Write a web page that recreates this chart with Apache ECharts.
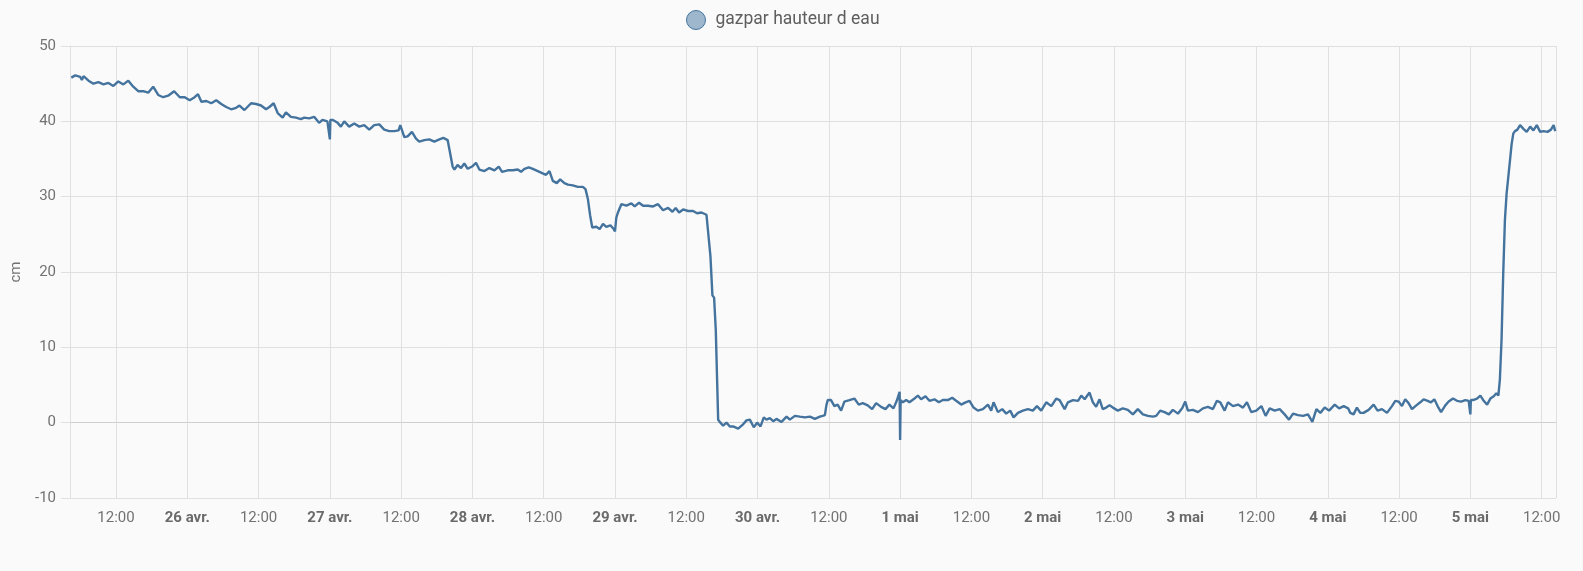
<!DOCTYPE html>
<html>
<head>
<meta charset="utf-8">
<script src="https://cdn.jsdelivr.net/npm/echarts@6/dist/echarts.min.js"></script>
<style>
html,body{margin:0;padding:0;background:#fafafa;}
#chart{width:1583px;height:571px;}
</style>
</head>
<body>
<div id="chart"></div>
<script>
const seriesName = 'gazpar hauteur d eau';
const yAxisName = 'cm';
const year = 2024;
const monthNames = ['janv.', 'févr.', 'mars', 'avr.', 'mai', 'juin', 'juil.', 'août', 'sept.', 'oct.', 'nov.', 'déc.'];
const axisStart = '04-25 04:15';
const axisEnd = '05-05 14:25';
const yTicks = [-10, 0, 10, 20, 30, 40, 50];

const apr25 = [
  ['04-25 04:28', 45.8], ['04-25 05:08', 46.1], ['04-25 05:58', 45.9], ['04-25 06:15', 45.5], ['04-25 06:32', 46.0],
  ['04-25 07:22', 45.4], ['04-25 08:12', 45.0], ['04-25 09:02', 45.2], ['04-25 09:53', 44.9], ['04-25 10:43', 45.1],
  ['04-25 11:33', 44.7], ['04-25 12:23', 45.3], ['04-25 13:14', 44.9], ['04-25 14:04', 45.4], ['04-25 14:54', 44.6],
  ['04-25 15:44', 44.0], ['04-25 16:35', 44.0], ['04-25 17:25', 43.8], ['04-25 18:15', 44.6], ['04-25 19:06', 43.5],
  ['04-25 19:56', 43.2], ['04-25 20:46', 43.4], ['04-25 21:47', 44.0], ['04-25 22:44', 43.2], ['04-25 23:34', 43.2]
];
const apr26 = [
  ['04-26 00:24', 42.8], ['04-26 01:14', 43.2], ['04-26 01:48', 43.6], ['04-26 02:22', 42.6], ['04-26 03:12', 42.7],
  ['04-26 04:02', 42.4], ['04-26 04:52', 42.8], ['04-26 05:43', 42.3], ['04-26 06:33', 41.9], ['04-26 07:23', 41.6],
  ['04-26 08:13', 41.8], ['04-26 08:47', 42.1], ['04-26 09:37', 41.5], ['04-26 10:44', 42.4], ['04-26 11:35', 42.3],
  ['04-26 12:25', 42.1], ['04-26 13:15', 41.6], ['04-26 13:49', 41.9], ['04-26 14:32', 42.4], ['04-26 15:13', 41.1],
  ['04-26 16:03', 40.5], ['04-26 16:36', 41.2], ['04-26 17:26', 40.6], ['04-26 18:17', 40.5], ['04-26 19:07', 40.3],
  ['04-26 19:41', 40.5], ['04-26 20:31', 40.4], ['04-26 21:21', 40.6], ['04-26 22:11', 39.8], ['04-26 22:45', 40.2],
  ['04-26 23:35', 40.0], ['04-26 23:55', 40.1]
];
const apr27 = [
  ['04-27 00:00', 37.6], ['04-27 00:05', 40.2], ['04-27 00:27', 40.2], ['04-27 01:18', 39.8], ['04-27 01:51', 39.3],
  ['04-27 02:25', 40.0], ['04-27 03:15', 39.3], ['04-27 04:06', 39.7], ['04-27 04:57', 39.3], ['04-27 05:47', 39.5],
  ['04-27 06:38', 38.9], ['04-27 07:28', 39.5], ['04-27 08:19', 39.6], ['04-27 09:09', 38.9], ['04-27 10:00', 38.7],
  ['04-27 10:51', 38.7], ['04-27 11:34', 38.8], ['04-27 11:51', 39.5], ['04-27 12:32', 37.9], ['04-27 13:05', 38.0],
  ['04-27 13:49', 38.6], ['04-27 14:30', 37.7], ['04-27 15:03', 37.3], ['04-27 15:54', 37.5], ['04-27 16:44', 37.6],
  ['04-27 17:35', 37.3], ['04-27 18:26', 37.6], ['04-27 19:06', 37.8], ['04-27 19:50', 37.5], ['04-27 20:06', 37.5],
  ['04-27 20:40', 34.0], ['04-27 20:58', 33.6], ['04-27 21:30', 34.2], ['04-27 22:05', 33.8], ['04-27 22:38', 34.4],
  ['04-27 23:12', 33.7], ['04-27 23:56', 34.0]
];
const apr28 = [
  ['04-28 00:36', 34.5], ['04-28 01:10', 33.6], ['04-28 02:01', 33.4], ['04-28 02:51', 33.8], ['04-28 03:42', 33.5],
  ['04-28 04:26', 34.0], ['04-28 04:59', 33.3], ['04-28 05:57', 33.5], ['04-28 06:47', 33.5], ['04-28 07:38', 33.6],
  ['04-28 08:11', 33.3], ['04-28 08:45', 33.7], ['04-28 09:29', 33.9], ['04-28 10:10', 33.7], ['04-28 11:00', 33.4],
  ['04-28 11:50', 33.1], ['04-28 12:24', 32.9], ['04-28 12:58', 33.4], ['04-28 13:32', 32.1], ['04-28 14:12', 31.8],
  ['04-28 14:46', 32.3], ['04-28 15:29', 31.8], ['04-28 16:04', 31.6], ['04-28 16:54', 31.5], ['04-28 17:44', 31.3],
  ['04-28 18:35', 31.3], ['04-28 19:02', 31.0], ['04-28 19:26', 29.7], ['04-28 19:49', 27.5], ['04-28 20:10', 25.9],
  ['04-28 20:51', 26.0], ['04-28 21:25', 25.7], ['04-28 21:59', 26.4], ['04-28 22:32', 26.0], ['04-28 23:13', 26.2],
  ['04-28 23:47', 25.7]
];
const apr29 = [
  ['04-29 00:00', 25.4], ['04-29 00:13', 27.2], ['04-29 00:30', 27.9], ['04-29 01:04', 29.0], ['04-29 01:55', 28.8],
  ['04-29 02:45', 29.1], ['04-29 03:19', 28.7], ['04-29 04:03', 29.2], ['04-29 04:43', 28.8], ['04-29 05:34', 28.8],
  ['04-29 06:24', 28.7], ['04-29 07:15', 29.0], ['04-29 08:05', 28.2], ['04-29 08:56', 28.5], ['04-29 09:40', 28.0],
  ['04-29 10:13', 28.5], ['04-29 10:47', 27.9], ['04-29 11:28', 28.3], ['04-29 12:18', 28.1], ['04-29 13:09', 28.1],
  ['04-29 13:49', 27.8], ['04-29 14:33', 27.9], ['04-29 15:24', 27.6], ['04-29 15:44', 27.4], ['04-29 16:04', 22.1],
  ['04-29 16:24', 16.9], ['04-29 16:41', 16.6], ['04-29 16:58', 12.3], ['04-29 17:22', 0.4], ['04-29 17:45', 0.0],
  ['04-29 18:12', -0.4], ['04-29 18:46', 0.0], ['04-29 19:20', -0.5], ['04-29 19:53', -0.5], ['04-29 20:44', -0.8],
  ['04-29 21:28', -0.3], ['04-29 22:08', 0.3], ['04-29 22:42', 0.4], ['04-29 23:22', -0.6], ['04-29 23:56', 0.0]
];
const apr30 = [
  ['04-30 00:30', -0.5], ['04-30 01:03', 0.7], ['04-30 01:30', 0.4], ['04-30 02:04', 0.6], ['04-30 02:38', 0.2],
  ['04-30 03:11', 0.5], ['04-30 04:02', 0.1], ['04-30 04:53', 0.8], ['04-30 05:26', 0.4], ['04-30 06:17', 0.9],
  ['04-30 07:07', 0.8], ['04-30 07:58', 0.7], ['04-30 08:49', 0.8], ['04-30 09:39', 0.5], ['04-30 10:29', 0.8],
  ['04-30 10:58', 0.9], ['04-30 11:20', 1.0], ['04-30 11:35', 2.3], ['04-30 11:49', 3.0], ['04-30 12:22', 3.0],
  ['04-30 12:56', 2.2], ['04-30 13:29', 2.4], ['04-30 14:04', 1.6], ['04-30 14:37', 2.8], ['04-30 15:28', 3.0],
  ['04-30 16:18', 3.2], ['04-30 17:02', 2.4], ['04-30 17:43', 2.6], ['04-30 18:33', 2.3], ['04-30 19:17', 1.8],
  ['04-30 19:58', 2.6], ['04-30 20:48', 2.1], ['04-30 21:32', 1.8], ['04-30 22:12', 2.4], ['04-30 22:53', 1.9],
  ['04-30 23:26', 2.9], ['04-30 23:55', 4.1]
];
const may1 = [
  ['05-01 00:00', -2.3], ['05-01 00:05', 3.0], ['05-01 00:27', 2.7], ['05-01 01:01', 3.0], ['05-01 01:34', 2.7],
  ['05-01 02:15', 3.1], ['05-01 02:59', 3.6], ['05-01 03:32', 3.1], ['05-01 04:16', 3.5], ['05-01 04:56', 2.9],
  ['05-01 05:47', 3.1], ['05-01 06:31', 2.7], ['05-01 07:11', 3.0], ['05-01 08:02', 3.0], ['05-01 08:46', 3.3],
  ['05-01 09:26', 2.9], ['05-01 10:17', 2.4], ['05-01 11:01', 2.7], ['05-01 11:41', 2.9], ['05-01 12:22', 2.0],
  ['05-01 13:05', 1.6], ['05-01 13:56', 1.8], ['05-01 14:47', 2.4], ['05-01 15:20', 1.6], ['05-01 15:44', 2.7],
  ['05-01 16:28', 1.4], ['05-01 17:11', 1.8], ['05-01 17:52', 1.2], ['05-01 18:32', 1.6], ['05-01 19:06', 0.7],
  ['05-01 19:50', 1.3], ['05-01 20:40', 1.6], ['05-01 21:31', 1.8], ['05-01 22:21', 1.6], ['05-01 23:02', 2.2],
  ['05-01 23:45', 1.6]
];
const may2 = [
  ['05-02 00:36', 2.7], ['05-02 01:27', 2.2], ['05-02 02:17', 3.2], ['05-02 02:51', 3.0], ['05-02 03:42', 1.8],
  ['05-02 04:15', 2.7], ['05-02 05:06', 3.0], ['05-02 05:57', 2.9], ['05-02 06:30', 3.6], ['05-02 07:04', 3.1],
  ['05-02 07:53', 4.0], ['05-02 08:27', 2.7], ['05-02 09:00', 2.1], ['05-02 09:34', 3.1], ['05-02 10:07', 1.8],
  ['05-02 10:41', 2.0], ['05-02 11:15', 2.3], ['05-02 11:49', 2.0], ['05-02 12:39', 1.6], ['05-02 13:29', 1.9],
  ['05-02 14:20', 1.7], ['05-02 15:11', 1.1], ['05-02 16:01', 1.8], ['05-02 16:52', 1.1], ['05-02 17:43', 0.9],
  ['05-02 18:33', 0.8], ['05-02 19:07', 0.9], ['05-02 19:47', 1.6], ['05-02 20:31', 1.4], ['05-02 21:15', 1.1],
  ['05-02 21:55', 1.7], ['05-02 22:46', 1.2], ['05-02 23:29', 1.9]
];
const may3 = [
  ['05-03 00:00', 2.8], ['05-03 00:27', 1.6], ['05-03 01:17', 1.7], ['05-03 02:08', 1.4], ['05-03 02:59', 1.9],
  ['05-03 03:49', 2.1], ['05-03 04:40', 1.8], ['05-03 05:20', 2.9], ['05-03 05:54', 2.7], ['05-03 06:38', 1.6],
  ['05-03 07:11', 2.7], ['05-03 08:02', 2.2], ['05-03 08:53', 2.4], ['05-03 09:43', 2.0], ['05-03 10:23', 2.7],
  ['05-03 11:07', 1.4], ['05-03 11:58', 1.6], ['05-03 12:49', 2.2], ['05-03 13:32', 0.9], ['05-03 14:13', 1.9],
  ['05-03 15:03', 1.6], ['05-03 15:54', 1.8], ['05-03 16:44', 1.1], ['05-03 17:28', 0.4], ['05-03 18:09', 1.2],
  ['05-03 18:59', 1.0], ['05-03 19:50', 0.9], ['05-03 20:40', 1.1], ['05-03 21:24', 0.1], ['05-03 22:05', 1.8],
  ['05-03 22:45', 1.3], ['05-03 23:29', 2.0]
];
const may4 = [
  ['05-04 00:13', 1.6], ['05-04 01:10', 2.4], ['05-04 01:54', 1.9], ['05-04 02:41', 2.2], ['05-04 03:25', 1.9],
  ['05-04 03:47', 1.3], ['05-04 04:20', 1.1], ['05-04 04:54', 2.0], ['05-04 05:28', 1.3], ['05-04 06:01', 1.3],
  ['05-04 06:52', 1.7], ['05-04 07:43', 2.4], ['05-04 08:23', 1.6], ['05-04 09:07', 1.8], ['05-04 09:58', 1.3],
  ['05-04 10:48', 2.2], ['05-04 11:22', 2.9], ['05-04 11:55', 2.8], ['05-04 12:29', 2.2], ['05-04 13:02', 3.1],
  ['05-04 13:36', 2.6], ['05-04 14:10', 1.8], ['05-04 14:54', 2.3], ['05-04 15:34', 2.7], ['05-04 16:08', 3.1],
  ['05-04 16:49', 2.9], ['05-04 17:22', 2.7], ['05-04 17:56', 3.1], ['05-04 18:29', 2.2], ['05-04 19:04', 1.4],
  ['05-04 19:47', 2.3], ['05-04 20:21', 2.8], ['05-04 21:05', 3.2], ['05-04 21:45', 2.9], ['05-04 22:26', 2.8],
  ['05-04 23:10', 3.0], ['05-04 23:43', 2.9]
];
const may5 = [
  ['05-05 00:00', 1.1], ['05-05 00:05', 3.0], ['05-05 00:27', 3.0], ['05-05 01:07', 3.2], ['05-05 01:41', 3.6],
  ['05-05 02:15', 2.9], ['05-05 02:49', 2.4], ['05-05 03:22', 3.2], ['05-05 03:56', 3.5], ['05-05 04:23', 3.9],
  ['05-05 04:43', 3.6], ['05-05 04:58', 5.7], ['05-05 05:15', 11.0], ['05-05 05:32', 19.8], ['05-05 05:49', 26.9],
  ['05-05 06:06', 30.4], ['05-05 06:23', 32.6], ['05-05 06:40', 34.8], ['05-05 06:57', 37.0], ['05-05 07:14', 38.4],
  ['05-05 07:31', 38.7], ['05-05 07:55', 38.9], ['05-05 08:22', 39.5], ['05-05 08:56', 39.0], ['05-05 09:29', 38.6],
  ['05-05 10:04', 39.3], ['05-05 10:37', 38.8], ['05-05 11:11', 39.5], ['05-05 11:45', 38.6], ['05-05 12:19', 38.7],
  ['05-05 12:59', 38.6], ['05-05 13:34', 38.9], ['05-05 14:01', 39.5], ['05-05 14:17', 38.7]
];

function toTime(s) {
  const m = s.match(/(\d+)-(\d+) (\d+):(\d+)/);
  return new Date(year, +m[1] - 1, +m[2], +m[3], +m[4]).getTime();
}
const allReadings = [].concat(apr25, apr26, apr27, apr28, apr29, apr30, may1, may2, may3, may4, may5);
const data = allReadings.map(r => [toTime(r[0]), r[1]]);

const lineColor = '#44739e';
const gridColor = '#e0e0e0';
const labelColor = '#727272';
const FONT = 'Roboto, "Noto Sans", sans-serif';

const chart = echarts.init(document.getElementById('chart'), null, { renderer: 'canvas' });
chart.setOption({
  backgroundColor: '#fafafa',
  animation: false,
  textStyle: { fontFamily: FONT },
  legend: {
    left: 681, top: 5,
    icon: 'circle',
    itemWidth: 19, itemHeight: 19,
    itemGap: 10,
    data: [{
      name: seriesName,
      itemStyle: { color: 'rgba(68,115,158,0.5)', borderColor: lineColor, borderWidth: 1 }
    }],
    textStyle: { fontSize: 17.5, color: '#5e5e5e', fontFamily: FONT, padding: [0, 0, 0, 5] }
  },
  grid: { left: 70, right: 27, top: 46, bottom: 73, containLabel: false },
  xAxis: {
    type: 'time',
    min: toTime(axisStart),
    max: toTime(axisEnd),
    splitNumber: 20,
    axisLine: { show: true, lineStyle: { color: '#cfcfcf', width: 1 } },
    axisTick: { show: true, length: 9, lineStyle: { color: gridColor } },
    splitLine: { show: true, lineStyle: { color: gridColor, width: 1 } },
    axisLabel: {
      show: true,
      margin: 13,
      color: labelColor,
      fontSize: 15,
      fontFamily: FONT,
      showMinLabel: false,
      showMaxLabel: false,
      hideOverlap: false,
      formatter: function (value) {
        const d = new Date(value);
        const hh = d.getHours(), mm = d.getMinutes();
        if (hh === 0 && mm === 0) {
          return '{b|' + d.getDate() + ' ' + monthNames[d.getMonth()] + '}';
        }
        return String(hh).padStart(2, '0') + ':' + String(mm).padStart(2, '0');
      },
      rich: { b: { fontWeight: 'bold', fontSize: 15, color: '#6a6a6a', fontFamily: FONT } }
    }
  },
  yAxis: {
    type: 'value',
    min: yTicks[0],
    max: yTicks[yTicks.length - 1],
    interval: 10,
    name: yAxisName,
    nameLocation: 'middle',
    nameGap: 45,
    nameTextStyle: { color: labelColor, fontSize: 15, fontFamily: FONT },
    axisLine: { show: true, lineStyle: { color: gridColor } },
    axisTick: { show: true, length: 9, lineStyle: { color: gridColor } },
    splitLine: { show: true, lineStyle: { color: gridColor } },
    axisLabel: { color: labelColor, fontSize: 15, margin: 14, fontFamily: FONT }
  },
  series: [{
    name: seriesName,
    type: 'line',
    data: data,
    showSymbol: false,
    symbol: 'none',
    sampling: null,
    lineStyle: { color: lineColor, width: 2.4 },
    itemStyle: { color: lineColor }
  }]
});
</script>
</body>
</html>
